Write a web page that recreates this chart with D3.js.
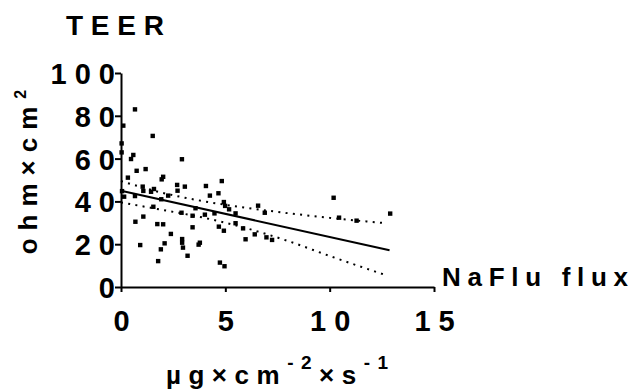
<!DOCTYPE html>
<html><head><meta charset="utf-8">
<script src="https://cdn.jsdelivr.net/npm/d3@7"></script>
<style>
body{margin:0;background:#fff;}
text{font-family:"Liberation Sans",Arial,sans-serif;font-weight:bold;fill:#000;}
</style></head>
<body><svg id="c" width="633" height="392"></svg>
<script>
const fluxX = [0.67,0.11,1.52,0.03,0.03,0.59,0.48,2.92,0.75,1.18,0.33,2.02,1.95,1.04,1.07,1.44,1.58,2.69,3.06,2.71,4.07,4.83,4.26,2.26,1.93,0.05,0.15,0.67,4.67,4.93,4.99,5.18,5.49,4.48,4.02,3.43,2.90,3.57,1.55,1.07,0.69,1.74,2.02,4.69,4.93,5.49,5.85,5.97,6.41,6.57,6.89,6.97,7.24,2.39,3.43,2.93,2.93,2.97,2.09,1.91,0.92,3.19,3.72,3.78,1.78,4.74,4.96,10.19,10.45,11.29,12.9];
const teerY = [83.0,75.4,70.6,67.1,62.9,61.7,59.8,59.7,54.3,55.1,51.1,51.5,50.3,46.9,44.9,44.5,45.8,47.7,46.9,45.0,47.2,49.5,42.7,42.7,41.0,44.8,42.2,42.5,43.8,39.7,37.9,36.3,34.4,34.4,33.8,33.3,34.7,36.8,37.5,32.9,30.5,29.4,29.3,28.2,26.3,29.8,27.4,22.3,24.6,38.0,34.7,23.2,22.0,24.8,27.9,22.4,20.7,18.4,20.4,17.6,19.6,14.6,19.8,20.7,12.1,11.4,9.7,41.7,32.4,31.0,34.3];
const fitX = [0, 12.87];
const fitY = [45.0, 17.2];
const bandX = [0, 2, 4, 6, 8, 10, 12.7];
const bandUpper = [49.5, 44.0, 40.0, 37.0, 34.5, 32.3, 29.8];
const bandLower = [39.5, 36.0, 32.3, 27.5, 21.5, 14.5, 5.5];
const xTicks = [0, 5, 10, 15];
const yTicks = [0, 20, 40, 60, 80, 100];

const svg = d3.select("#c");
const x = d3.scaleLinear().domain([0, 15]).range([121, 434]);
const y = d3.scaleLinear().domain([0, 100]).range([287, 73]);
const LS = 8;

// axes
const xa = svg.append("g").attr("transform", "translate(0,287)")
  .call(d3.axisBottom(x).tickValues(xTicks).tickSize(5).tickSizeOuter(0));
const ya = svg.append("g").attr("transform", "translate(121,0)")
  .call(d3.axisLeft(y).tickValues(yTicks).tickSize(6).tickSizeOuter(0));
[xa, ya].forEach(g => {
  g.select(".domain").attr("stroke", "#000").attr("stroke-width", 2);
  g.selectAll(".tick line").attr("stroke", "#000").attr("stroke-width", 2);
  g.selectAll(".tick text").attr("font-size", 29).attr("font-family", "Liberation Sans, Arial, sans-serif")
    .attr("font-weight", "bold").attr("letter-spacing", LS + "px").attr("fill", "#000");
});
xa.selectAll(".tick text").attr("y", 44).attr("dy", 0).attr("dx", (LS / 2) + "px");
ya.selectAll(".tick text").attr("x", -6).attr("dx", LS + "px").attr("dy", "0.36em");

// fit line
const line = d3.line().x(d => x(d[0])).y(d => y(d[1]));
svg.append("path").datum(fitX.map((v, i) => [v, fitY[i]])).attr("d", line)
  .attr("fill", "none").attr("stroke", "#000").attr("stroke-width", 2);
const cline = d3.line().curve(d3.curveMonotoneX).x(d => x(d[0])).y(d => y(d[1]));
[bandUpper, bandLower].forEach(b => {
  svg.append("path").datum(bandX.map((v, i) => [v, b[i]])).attr("d", cline)
    .attr("fill", "none").attr("stroke", "#000").attr("stroke-width", 2)
    .attr("stroke-dasharray", "2,5.3");
});

// points
svg.append("g").selectAll("rect").data(fluxX.map((v, i) => [v, teerY[i]])).join("rect")
  .attr("x", d => x(d[0]) - 2.2).attr("y", d => y(d[1]) - 2.2)
  .attr("width", 4.4).attr("height", 4.4).attr("fill", "#000");

// labels
svg.append("text").attr("x", 66).attr("y", 35).attr("font-size", 28)
  .attr("textLength", 98).attr("lengthAdjust", "spacing").text("TEER");
svg.append("text").attr("x", 442).attr("y", 286).attr("font-size", 26)
  .attr("textLength", 186).attr("lengthAdjust", "spacing").text("NaFlu flux");
const u = svg.append("text").attr("x", 166).attr("y", 384).attr("font-size", 26).attr("letter-spacing", "7.5px");
u.append("tspan").text("µg×cm");
u.append("tspan").attr("dy", -15).attr("font-size", 19).text("-2");
u.append("tspan").attr("dy", 15).text("×s");
u.append("tspan").attr("dy", -15).attr("font-size", 19).text("-1");
const yl = svg.append("text").attr("transform", "translate(37,168) rotate(-90)").attr("text-anchor", "middle")
  .attr("font-size", 26).attr("letter-spacing", "8px");
yl.append("tspan").text("ohm×cm");
yl.append("tspan").attr("dy", -11).attr("font-size", 16).text("2");
</script></body></html>
